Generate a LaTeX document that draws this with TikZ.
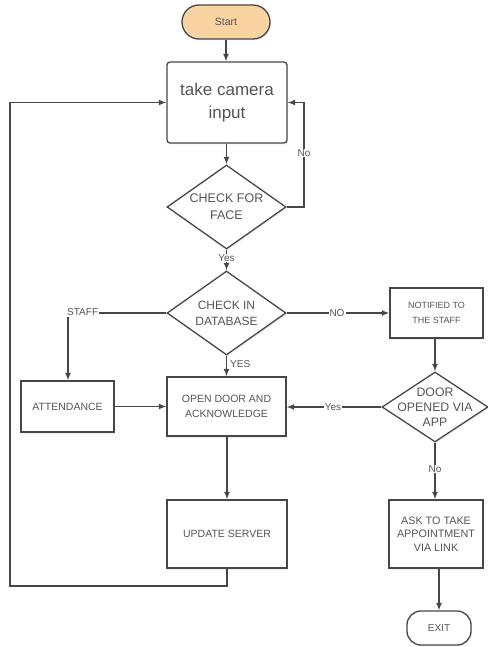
\documentclass[tikz,border=0pt]{standalone}
\usepackage{fontspec}
\setmainfont{Liberation Sans}
\usetikzlibrary{arrows.meta,shapes.geometric,shadows}
\definecolor{ln}{HTML}{474747}
\definecolor{tx}{HTML}{555555}
\definecolor{startfill}{HTML}{F9D3A1}
\tikzset{
  base/.style={draw=ln, line width=1.3pt, inner sep=0pt, align=center, text=tx, fill=white,
    drop shadow={opacity=0.12, shadow xshift=1.2pt, shadow yshift=-1.5pt}},
  box/.style={base, rectangle},
  pill/.style={base, rectangle, rounded corners=15pt},
  dia/.style={base, diamond},
  conn/.style={draw=ln, line width=1.3pt, -{Latex[length=7.5pt,width=6pt]}},
  line/.style={draw=ln, line width=1.3pt},
  elab/.style={fill=white, text=tx, inner sep=1pt, font=\fontsize{10}{12}\selectfont}
}
\begin{document}
\begin{tikzpicture}[x=1pt,y=-1pt]
\useasboundingbox (0,0) rectangle (487,647);
\fill[white] (0,0) rectangle (487,647);

\node[pill, fill=startfill, minimum width=88pt, minimum height=34pt, rounded corners=17pt, font=\fontsize{10.5}{13}\selectfont] (start) at (226,22) {Start};
\node[box, rounded corners=3pt, minimum width=120pt, minimum height=81pt, font=\fontsize{17}{23}\selectfont] (cam) at (227,102.5) {take camera\\input};
\node[dia, minimum width=119pt, minimum height=84pt,
  label={[text=tx, align=center, font=\fontsize{12.5}{17}\selectfont]center:CHECK FOR\\FACE}] (face) at (226.5,207) {};
\node[dia, minimum width=119pt, minimum height=84pt,
  label={[text=tx, align=center, font=\fontsize{12}{16}\selectfont]center:CHECK IN\\DATABASE}] (db) at (226.5,313) {};
\node[box, minimum width=93pt, minimum height=51pt, font=\fontsize{10.5}{13}\selectfont] (att) at (67.5,406.5) {ATTENDANCE};
\node[box, minimum width=119pt, minimum height=59pt, font=\fontsize{10.5}{14.3}\selectfont] (open) at (226.5,406.5) {OPEN DOOR AND\\ACKNOWLEDGE};
\node[box, minimum width=93pt, minimum height=50pt, font=\fontsize{9}{14.3}\selectfont] (notif) at (436.5,313) {NOTIFIED TO\\THE STAFF};
\node[dia, minimum width=106pt, minimum height=70pt,
  label={[text=tx, align=center, font=\fontsize{12.3}{15}\selectfont]center:DOOR\\OPENED VIA\\APP}] (door) at (435,407) {};
\node[box, minimum width=120pt, minimum height=68pt, font=\fontsize{10.5}{13}\selectfont] (upd) at (227,534) {UPDATE SERVER};
\node[box, minimum width=94pt, minimum height=68pt, font=\fontsize{10.8}{13.6}\selectfont] (ask) at (436,534) {ASK TO TAKE\\APPOINTMENT\\VIA LINK};
\node[pill, minimum width=64pt, minimum height=34pt, rounded corners=14pt, font=\fontsize{10}{12}\selectfont] (exit) at (439,628) {EXIT};

% connectors
\draw[conn] (start.south) -- (cam.north -| start.south);
\draw[conn] (cam.south -| face.north) -- (face.north);
\coordinate (noc) at (304,207);
\draw[conn] (face.east) -- (noc) |- (cam.east);
\node[elab] (nolab) at (304,153) {No};
\draw[conn] (face.south) -- (db.north);
\node[elab] (yeslab) at (226.5,258) {Yes};
\coordinate (staffc) at (68,313);
\draw[line] (db.west) -- (staffc);
\draw[conn] (staffc) -- (att.north -| staffc);
\node[elab, anchor=west] (stafflab) at (66,312) {STAFF};
\draw[conn] (db.east) -- (notif.west);
\node[elab] (nolab2) at (337,313) {NO};
\draw[conn] (db.south) -- (open.north);
\node[text=tx, inner sep=1pt, anchor=west, font=\fontsize{10}{12}\selectfont] (yeslab2) at (229,364) {YES};
\draw[conn] (att.east) -- (open.west);
\draw[conn] (notif.south -| door.north) -- (door.north);
\draw[conn] (door.west) -- (open.east |- door.west);
\node[elab] (yeslab3) at (333,407) {Yes};
\draw[conn] (door.south) -- (ask.north -| door.south);
\node[elab] (nolab3) at (435,469) {No};
\draw[conn] (exit.north |- ask.south) -- (exit.north);
\draw[conn] (open.south -| upd.north) -- (upd.north);
\coordinate (lb) at (10,586);
\draw[conn] (upd.south) -- (upd.south |- lb) -- (lb) -- (lb |- cam.west) -- (cam.west);
\end{tikzpicture}
\end{document}
